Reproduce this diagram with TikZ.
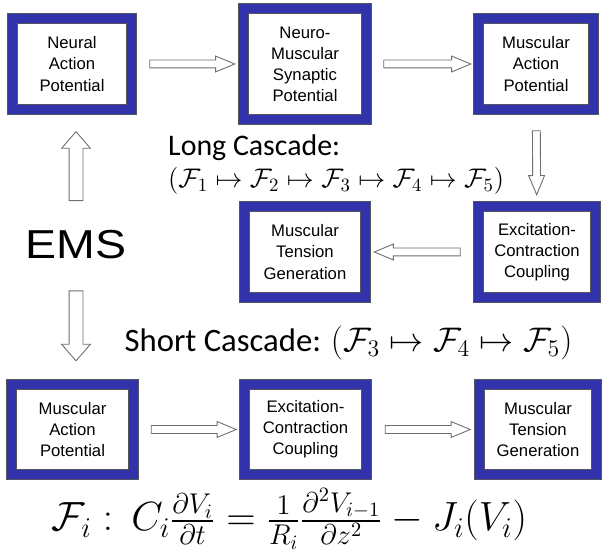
\documentclass[tikz,border=0pt]{standalone}
\usepackage{fix-cm}
\usepackage{amsmath,amssymb}
\usepackage{graphicx}
\usepackage{fontspec}
\usepackage{xcolor}
\usepackage{tikz}
\usetikzlibrary{calc,positioning,shapes.arrows}
\setsansfont{Liberation Sans}
\newfontfamily\cascfont{Carlito}
\definecolor{emsblue}{RGB}{50,50,170}
\definecolor{emsline}{RGB}{85,85,95}
\definecolor{emsgray}{RGB}{110,110,110}
\tikzset{
  emsbox/.style={rectangle, draw=emsline, line width=0.5pt, double=emsblue,
              double distance=1.85mm, fill=white, minimum width=2.42cm,
              minimum height=1.82cm, inner sep=0pt, align=center,
              font=\sffamily\fontsize{9.5}{12}\selectfont},
  casarr/.style={single arrow, draw=emsgray, fill=white, line width=0.5pt,
              inner xsep=0pt, inner ysep=0.07cm, single arrow head extend=0.08cm,
              single arrow tip angle=45, minimum height=#1, sloped,
              allow upside down},
  emsarr/.style={casarr=#1, inner ysep=0.13cm, single arrow head extend=0.15cm,
              single arrow tip angle=82},
  casclab/.style={font=\cascfont\fontsize{17}{20}\selectfont}
}

\begin{document}
\begin{tikzpicture}
  \useasboundingbox (0,0) rectangle (12.06,11.02);
  \node[emsbox, minimum width=2.38cm] (nap) at (1.44,9.74) {Neural\\Action\\Potential};
  \node[emsbox, minimum width=2.46cm, minimum height=2.22cm] (nmsp) at (6.10,9.74)
    {Neuro-\\Muscular\\Synaptic\\Potential};
  \node[emsbox, minimum width=2.30cm] (map) at (10.72,9.74) {Muscular\\Action\\Potential};
  \node[emsbox, minimum width=2.34cm] (ecc) at (10.74,5.98) {Excitation-\\Contraction\\Coupling};
  \node[emsbox] (mtg) at (6.10,5.98) {Muscular\\Tension\\Generation};
  \node[emsbox, minimum width=2.44cm, minimum height=1.80cm] (smap) at (1.45,2.43)
    {Muscular\\Action\\Potential};
  \node[emsbox, minimum width=2.44cm, minimum height=1.80cm] (secc) at (6.11,2.43)
    {Excitation-\\Contraction\\Coupling};
  \node[emsbox, minimum width=2.34cm, minimum height=1.80cm] (smtg) at (10.76,2.43)
    {Muscular\\Tension\\Generation};

  \node[inner sep=0pt, font=\sffamily\fontsize{23}{26}\selectfont] (ems) at (1.52,6.12)
    {\scalebox{1.15}[1]{EMS}};
  \node[casclab, align=left, anchor=north west] (lcasc) at (3.24,8.44)
    {Long Cascade:\\[-2pt] {\fontsize{15.3}{18}\selectfont$(\mathcal{F}_1 \mapsto \mathcal{F}_2
     \mapsto \mathcal{F}_3 \mapsto \mathcal{F}_4 \mapsto \mathcal{F}_5)$}};
  \node[casclab, font=\cascfont\fontsize{18.6}{22}\selectfont] (scasc) at (6.97,4.16)
    {Short Cascade: {\fontsize{19.4}{22}\selectfont$(\mathcal{F}_3 \mapsto \mathcal{F}_4
     \mapsto \mathcal{F}_5)$}};
  \node[font=\fontsize{23.2}{26}\selectfont] (eqn) at (5.79,0.64)
    {$\mathcal{F}_i :\, C_i \tfrac{\partial V_i}{\partial t} = \tfrac{1}{R_i}
     \tfrac{\partial^2 V_{i-1}}{\partial z^2} - J_i(V_i)$};

  \path (nap) -- node[casarr=1.70cm] {} (nmsp);
  \path (nmsp) -- node[casarr=1.74cm] {} (map);
  \path (map) -- node[casarr=1.28cm] {} (ecc);
  \path (ecc) -- node[casarr=1.72cm] {} (mtg);
  \path (ems.north) -- node[emsarr=1.38cm] {} (ems.north |- nap.south);
  \path (ems.south) -- node[emsarr=1.40cm] {} (ems.south |- smap.north);
  \path (smap) -- node[casarr=1.70cm] {} (secc);
  \path (secc) -- node[casarr=1.70cm] {} (smtg);
\end{tikzpicture}
\end{document}
